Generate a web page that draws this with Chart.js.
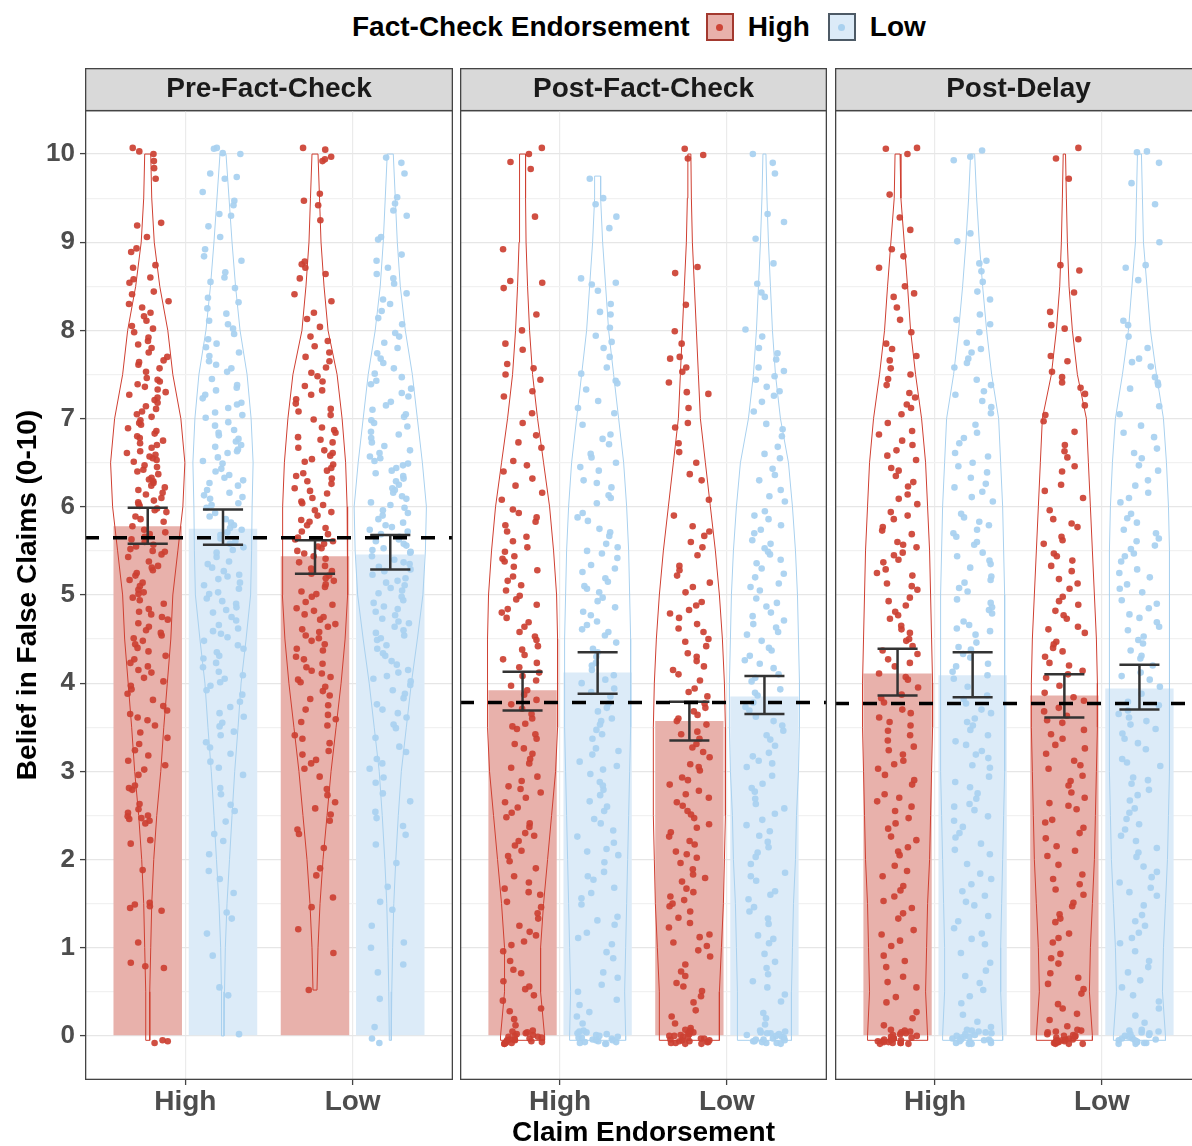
<!DOCTYPE html>
<html>
<head>
<meta charset="utf-8">
<script src="https://cdn.jsdelivr.net/npm/chart.js"></script>
<style>
  body { margin: 0; width: 1192px; height: 1146px; overflow: hidden; position: relative; background: #fff;
         font-family: 'Liberation Sans', Arial, sans-serif; }
  canvas { position: absolute; top: 68px; }
  #legend { position: absolute; top: 11px; left: 352px; display: flex; align-items: center;
            font-weight: bold; font-size: 28px; color: #000; white-space: nowrap; }
  .key { display: inline-block; width: 24px; height: 24px; border: 2px solid; position: relative; margin-left: 16px; }
  .key i { position: absolute; width: 7px; height: 7px; border-radius: 50%; left: 8.5px; top: 8.5px; }
  .lab { margin-left: 14px; }
  .lab + .key { margin-left: 18px; }
</style>
</head>
<body>
<div id="legend"></div>
<canvas id="c0" width="453" height="1078" style="left:0px"></canvas>
<canvas id="c1" width="367" height="1078" style="left:460px"></canvas>
<canvas id="c2" width="367" height="1078" style="left:835px"></canvas>
<script>
// facettes / kategori
const panelTitles = ['Pre-Fact-Check', 'Post-Fact-Check', 'Post-Delay'];
const claimLabels = ['High', 'Low'];
const factLabels = ['High', 'Low'];
const yTicks = [0, 1, 2, 3, 4, 5, 6, 7, 8, 9, 10];

// rata2 per [panel][claim]
const meanFactHigh = [[5.78, 5.44], [3.92, 3.57], [4.11, 3.86]];
const meanFactLow  = [[5.75, 5.46], [4.12, 3.85], [4.09, 3.94]];
// error bar [lo, hi]
const ciFactHigh = [[[5.58, 5.99], [5.24, 5.62]], [[3.69, 4.13], [3.35, 3.79]], [[3.86, 4.39], [3.61, 4.10]]];
const ciFactLow  = [[[5.57, 5.97], [5.29, 5.68]], [[3.88, 4.35], [3.65, 4.08]], [[3.84, 4.35], [3.70, 4.21]]];
// garis putus2 per panel
const panelMean = [5.65, 3.78, 3.77];

// nilai individual (dibaca kira2 dari gambar)
const ptsPreHH = [-0.08, -0.06, -0.05, 0.77, 0.79, 0.83, 1.06, 1.42, 1.45, 1.47, 1.49, 1.51, 1.88, 2.18, 2.22, 2.41, 2.44, 2.46, 2.47, 2.49, 2.5, 2.53, 2.57, 2.63, 2.79, 2.81, 2.84, 2.96, 3.02, 3.07, 3.12, 3.18, 3.24, 3.31, 3.38, 3.44, 3.52, 3.58, 3.61, 3.65, 3.69, 3.74, 3.81, 3.88, 3.93, 3.97, 4.02, 4.06, 4.12, 4.15, 4.19, 4.23, 4.27, 4.31, 4.36, 4.4, 4.44, 4.48, 4.51, 4.54, 4.57, 4.6, 4.64, 4.68, 4.72, 4.75, 4.78, 4.81, 4.84, 4.9, 4.94, 4.97, 5.01, 5.03, 5.06, 5.1, 5.14, 5.17, 5.22, 5.25, 5.28, 5.31, 5.33, 5.38, 5.43, 5.46, 5.49, 5.5, 5.52, 5.55, 5.57, 5.6, 5.63, 5.66, 5.69, 5.71, 5.74, 5.78, 5.83, 5.86, 5.89, 5.94, 5.96, 5.98, 6.01, 6.03, 6.05, 6.07, 6.1, 6.14, 6.16, 6.19, 6.22, 6.24, 6.27, 6.29, 6.31, 6.33, 6.37, 6.4, 6.42, 6.45, 6.47, 6.51, 6.53, 6.55, 6.57, 6.59, 6.61, 6.63, 6.67, 6.7, 6.72, 6.75, 6.78, 6.8, 6.83, 6.86, 6.89, 6.93, 6.95, 6.98, 7.02, 7.05, 7.08, 7.11, 7.14, 7.18, 7.21, 7.24, 7.27, 7.3, 7.33, 7.36, 7.39, 7.42, 7.44, 7.46, 7.53, 7.57, 7.61, 7.64, 7.66, 7.7, 7.75, 7.8, 7.84, 7.88, 7.92, 7.98, 8.02, 8.05, 8.11, 8.16, 8.2, 8.26, 8.3, 8.33, 8.41, 8.44, 8.54, 8.58, 8.6, 8.71, 8.74, 8.89, 8.93, 9.06, 9.19, 9.22, 9.72, 9.84, 9.92, 10.0, 10.03, 10.07];
const ptsPreHL = [0.02, 0.46, 0.55, 0.91, 1.16, 1.33, 1.4, 1.62, 1.78, 1.87, 2.06, 2.21, 2.29, 2.43, 2.55, 2.62, 2.74, 2.81, 2.96, 3.04, 3.11, 3.2, 3.27, 3.33, 3.41, 3.45, 3.51, 3.55, 3.62, 3.66, 3.73, 3.79, 3.87, 3.92, 3.97, 4.01, 4.05, 4.09, 4.13, 4.18, 4.23, 4.28, 4.31, 4.35, 4.39, 4.43, 4.48, 4.52, 4.56, 4.59, 4.62, 4.66, 4.71, 4.75, 4.8, 4.83, 4.86, 4.9, 4.93, 4.96, 5.01, 5.03, 5.07, 5.11, 5.14, 5.18, 5.21, 5.23, 5.27, 5.31, 5.35, 5.38, 5.43, 5.48, 5.51, 5.54, 5.58, 5.61, 5.64, 5.68, 5.71, 5.74, 5.76, 5.79, 5.82, 5.86, 5.89, 5.93, 5.99, 6.02, 6.04, 6.09, 6.11, 6.13, 6.16, 6.19, 6.24, 6.27, 6.3, 6.33, 6.36, 6.4, 6.43, 6.49, 6.52, 6.56, 6.61, 6.63, 6.65, 6.68, 6.7, 6.74, 6.77, 6.81, 6.84, 6.87, 6.92, 6.96, 7.01, 7.04, 7.07, 7.12, 7.16, 7.18, 7.23, 7.27, 7.32, 7.35, 7.38, 7.45, 7.53, 7.57, 7.61, 7.65, 7.71, 7.75, 7.81, 7.85, 7.9, 7.96, 8.02, 8.07, 8.11, 8.19, 8.25, 8.32, 8.37, 8.48, 8.55, 8.6, 8.66, 8.79, 8.84, 8.92, 9.06, 9.18, 9.3, 9.32, 9.42, 9.47, 9.57, 9.72, 9.74, 9.78, 10.0, 10.01, 10.06, 10.07];
const ptsPreLH = [0.52, 0.94, 1.21, 1.46, 1.57, 1.82, 1.9, 2.13, 2.29, 2.34, 2.44, 2.51, 2.58, 2.65, 2.73, 2.8, 2.94, 3.03, 3.09, 3.13, 3.19, 3.23, 3.32, 3.37, 3.41, 3.52, 3.56, 3.59, 3.64, 3.7, 3.75, 3.82, 3.86, 3.91, 3.96, 4.01, 4.04, 4.07, 4.11, 4.14, 4.18, 4.22, 4.27, 4.3, 4.37, 4.39, 4.44, 4.48, 4.51, 4.54, 4.58, 4.61, 4.64, 4.67, 4.72, 4.75, 4.78, 4.82, 4.85, 4.89, 4.92, 4.98, 5.01, 5.04, 5.09, 5.12, 5.16, 5.19, 5.22, 5.24, 5.27, 5.3, 5.33, 5.37, 5.41, 5.44, 5.47, 5.5, 5.53, 5.55, 5.58, 5.61, 5.63, 5.65, 5.69, 5.72, 5.76, 5.79, 5.83, 5.85, 5.9, 5.94, 5.96, 6.02, 6.04, 6.06, 6.1, 6.15, 6.18, 6.21, 6.26, 6.29, 6.32, 6.35, 6.38, 6.41, 6.44, 6.48, 6.51, 6.54, 6.58, 6.61, 6.64, 6.67, 6.73, 6.76, 6.79, 6.84, 6.87, 6.9, 6.99, 7.04, 7.08, 7.11, 7.17, 7.22, 7.27, 7.32, 7.37, 7.42, 7.48, 7.52, 7.58, 7.65, 7.7, 7.75, 7.82, 7.88, 7.93, 8.04, 8.13, 8.2, 8.33, 8.41, 8.59, 8.64, 8.71, 8.75, 8.78, 9.25, 9.42, 9.47, 9.55, 9.92, 9.94, 9.97, 10.05, 10.07];
const ptsPreLL = [-0.08, -0.03, 0.1, 0.42, 0.72, 0.81, 1.0, 1.06, 1.25, 1.43, 1.52, 1.69, 1.96, 2.17, 2.28, 2.38, 2.47, 2.54, 2.66, 2.75, 2.87, 2.93, 3.03, 3.09, 3.14, 3.22, 3.28, 3.38, 3.49, 3.53, 3.61, 3.66, 3.7, 3.76, 3.83, 3.88, 3.92, 3.98, 4.02, 4.05, 4.08, 4.12, 4.15, 4.21, 4.25, 4.31, 4.34, 4.39, 4.43, 4.49, 4.51, 4.54, 4.57, 4.6, 4.64, 4.68, 4.7, 4.73, 4.77, 4.81, 4.84, 4.87, 4.91, 4.94, 4.98, 5.02, 5.05, 5.08, 5.11, 5.14, 5.16, 5.19, 5.23, 5.27, 5.29, 5.32, 5.35, 5.37, 5.4, 5.44, 5.48, 5.49, 5.51, 5.53, 5.56, 5.58, 5.61, 5.63, 5.66, 5.69, 5.72, 5.74, 5.77, 5.79, 5.82, 5.86, 5.9, 5.93, 5.96, 5.99, 6.02, 6.05, 6.09, 6.12, 6.16, 6.19, 6.21, 6.25, 6.29, 6.32, 6.35, 6.38, 6.41, 6.44, 6.47, 6.49, 6.52, 6.55, 6.57, 6.61, 6.64, 6.69, 6.73, 6.78, 6.82, 6.85, 6.91, 6.95, 6.98, 7.02, 7.05, 7.1, 7.15, 7.19, 7.25, 7.29, 7.34, 7.39, 7.43, 7.47, 7.51, 7.57, 7.63, 7.68, 7.74, 7.8, 7.86, 7.93, 7.97, 8.07, 8.14, 8.22, 8.3, 8.35, 8.42, 8.53, 8.59, 8.64, 8.71, 8.79, 8.86, 9.03, 9.06, 9.3, 9.36, 9.44, 9.51, 9.78, 9.9, 9.96];

const ptsPostHH = [-0.09, -0.09, -0.08, -0.08, -0.07, -0.07, -0.06, -0.05, -0.05, -0.04, -0.04, -0.03, -0.02, -0.01, -0.01, 0.0, 0.01, 0.02, 0.03, 0.04, 0.05, 0.06, 0.12, 0.19, 0.28, 0.31, 0.4, 0.46, 0.53, 0.56, 0.62, 0.71, 0.75, 0.85, 0.96, 1.03, 1.07, 1.14, 1.18, 1.25, 1.33, 1.39, 1.46, 1.52, 1.6, 1.63, 1.67, 1.74, 1.81, 1.9, 1.98, 2.04, 2.1, 2.16, 2.21, 2.27, 2.3, 2.37, 2.41, 2.48, 2.53, 2.59, 2.65, 2.7, 2.76, 2.8, 2.83, 2.89, 2.94, 3.04, 3.09, 3.14, 3.2, 3.26, 3.31, 3.37, 3.42, 3.48, 3.51, 3.54, 3.6, 3.65, 3.71, 3.76, 3.81, 3.87, 3.92, 3.97, 4.03, 4.08, 4.12, 4.18, 4.23, 4.27, 4.32, 4.38, 4.42, 4.49, 4.53, 4.58, 4.64, 4.69, 4.74, 4.8, 4.84, 4.89, 4.95, 4.99, 5.05, 5.11, 5.16, 5.21, 5.28, 5.32, 5.38, 5.41, 5.44, 5.49, 5.54, 5.61, 5.66, 5.72, 5.79, 5.83, 5.88, 5.93, 5.97, 6.08, 6.16, 6.24, 6.32, 6.4, 6.47, 6.52, 6.67, 6.73, 6.81, 6.95, 7.06, 7.25, 7.31, 7.44, 7.5, 7.57, 7.62, 7.78, 7.85, 8.0, 8.18, 8.48, 8.54, 8.56, 8.92, 9.29, 9.83, 9.91, 10.0, 10.07];
const ptsPostHL = [-0.09, -0.09, -0.08, -0.07, -0.07, -0.06, -0.05, -0.05, -0.04, -0.03, -0.02, -0.02, -0.01, 0.0, 0.01, 0.02, 0.03, 0.04, 0.05, 0.06, 0.14, 0.22, 0.27, 0.35, 0.41, 0.5, 0.58, 0.66, 0.72, 0.88, 0.95, 1.04, 1.11, 1.17, 1.26, 1.31, 1.35, 1.49, 1.56, 1.62, 1.68, 1.77, 1.81, 1.86, 1.97, 2.05, 2.09, 2.12, 2.19, 2.26, 2.33, 2.41, 2.46, 2.55, 2.6, 2.66, 2.73, 2.79, 2.84, 2.88, 2.97, 3.02, 3.06, 3.11, 3.19, 3.23, 3.26, 3.37, 3.42, 3.47, 3.53, 3.57, 3.6, 3.68, 3.72, 3.77, 3.85, 3.9, 3.94, 4.0, 4.04, 4.09, 4.15, 4.2, 4.23, 4.3, 4.35, 4.39, 4.46, 4.54, 4.58, 4.61, 4.66, 4.7, 4.77, 4.81, 4.86, 4.93, 4.97, 5.03, 5.07, 5.1, 5.15, 5.19, 5.26, 5.3, 5.34, 5.42, 5.47, 5.5, 5.54, 5.58, 5.67, 5.71, 5.75, 5.84, 5.88, 5.93, 6.04, 6.1, 6.13, 6.22, 6.27, 6.3, 6.41, 6.45, 6.5, 6.56, 6.6, 6.71, 6.77, 6.82, 6.93, 7.06, 7.12, 7.2, 7.33, 7.4, 7.43, 7.51, 7.58, 7.7, 7.8, 7.87, 7.94, 8.03, 8.18, 8.21, 8.3, 8.45, 8.52, 8.54, 8.59, 9.16, 9.29, 9.43, 9.5, 9.72];
const ptsPostLH = [-0.09, -0.09, -0.08, -0.08, -0.07, -0.07, -0.06, -0.06, -0.05, -0.05, -0.04, -0.03, -0.03, -0.02, -0.01, 0.0, 0.0, 0.01, 0.02, 0.03, 0.04, 0.05, 0.06, 0.07, 0.09, 0.14, 0.22, 0.29, 0.38, 0.45, 0.51, 0.56, 0.6, 0.68, 0.73, 0.81, 0.9, 0.97, 1.02, 1.06, 1.12, 1.15, 1.23, 1.28, 1.34, 1.41, 1.47, 1.5, 1.54, 1.58, 1.63, 1.67, 1.75, 1.79, 1.83, 1.89, 1.96, 2.02, 2.06, 2.09, 2.17, 2.21, 2.26, 2.31, 2.36, 2.4, 2.47, 2.51, 2.55, 2.61, 2.65, 2.7, 2.74, 2.78, 2.85, 2.9, 2.93, 3.01, 3.05, 3.08, 3.16, 3.22, 3.27, 3.31, 3.37, 3.42, 3.45, 3.53, 3.57, 3.6, 3.64, 3.68, 3.72, 3.77, 3.85, 3.9, 3.94, 4.03, 4.1, 4.15, 4.19, 4.25, 4.3, 4.34, 4.42, 4.47, 4.5, 4.58, 4.62, 4.67, 4.74, 4.79, 4.83, 4.88, 4.92, 5.03, 5.09, 5.14, 5.22, 5.28, 5.33, 5.45, 5.54, 5.6, 5.67, 5.72, 5.78, 5.9, 6.08, 6.3, 6.37, 6.5, 6.62, 6.72, 6.9, 6.95, 7.12, 7.28, 7.3, 7.41, 7.53, 7.58, 7.68, 7.7, 7.85, 7.99, 8.29, 8.65, 8.72, 9.95, 9.99, 10.06];
const ptsPostLL = [-0.09, -0.08, -0.08, -0.07, -0.06, -0.06, -0.05, -0.04, -0.04, -0.03, -0.02, -0.01, 0.0, 0.01, 0.02, 0.03, 0.03, 0.04, 0.05, 0.06, 0.13, 0.2, 0.26, 0.39, 0.47, 0.55, 0.62, 0.7, 0.77, 0.84, 0.93, 1.05, 1.1, 1.14, 1.27, 1.33, 1.41, 1.46, 1.55, 1.6, 1.64, 1.76, 1.81, 1.85, 1.95, 2.03, 2.08, 2.14, 2.2, 2.27, 2.32, 2.39, 2.45, 2.52, 2.58, 2.63, 2.69, 2.77, 2.81, 2.86, 2.95, 3.05, 3.09, 3.12, 3.17, 3.21, 3.29, 3.36, 3.41, 3.46, 3.52, 3.57, 3.62, 3.69, 3.73, 3.78, 3.86, 3.89, 3.93, 4.02, 4.06, 4.1, 4.17, 4.22, 4.26, 4.31, 4.37, 4.4, 4.48, 4.55, 4.58, 4.63, 4.67, 4.71, 4.76, 4.8, 4.87, 4.91, 4.96, 5.05, 5.09, 5.13, 5.2, 5.24, 5.3, 5.36, 5.4, 5.46, 5.49, 5.53, 5.58, 5.62, 5.7, 5.74, 5.79, 5.86, 5.9, 5.95, 6.06, 6.12, 6.19, 6.3, 6.36, 6.43, 6.55, 6.6, 6.68, 6.8, 6.88, 6.94, 7.08, 7.19, 7.26, 7.31, 7.36, 7.44, 7.48, 7.54, 7.58, 7.67, 7.74, 7.8, 7.93, 8.01, 8.38, 8.43, 8.53, 8.76, 9.04, 9.23, 9.32, 9.78, 9.9, 10.0];

const ptsDelayHH = [-0.09, -0.09, -0.08, -0.08, -0.08, -0.07, -0.07, -0.06, -0.06, -0.05, -0.05, -0.04, -0.03, -0.03, -0.02, -0.01, 0.0, 0.01, 0.02, 0.03, 0.04, 0.05, 0.06, 0.07, 0.12, 0.2, 0.27, 0.38, 0.44, 0.55, 0.61, 0.67, 0.78, 0.85, 0.91, 1.02, 1.08, 1.15, 1.2, 1.33, 1.39, 1.45, 1.53, 1.58, 1.65, 1.7, 1.81, 1.87, 1.93, 2.05, 2.09, 2.14, 2.22, 2.26, 2.35, 2.41, 2.47, 2.55, 2.6, 2.66, 2.7, 2.74, 2.85, 2.9, 2.96, 3.03, 3.08, 3.12, 3.19, 3.24, 3.28, 3.35, 3.41, 3.46, 3.52, 3.56, 3.61, 3.66, 3.7, 3.78, 3.83, 3.87, 3.95, 4.04, 4.07, 4.11, 4.19, 4.23, 4.27, 4.33, 4.37, 4.42, 4.48, 4.5, 4.57, 4.61, 4.65, 4.73, 4.77, 4.81, 4.88, 4.93, 4.97, 5.06, 5.1, 5.13, 5.22, 5.25, 5.29, 5.37, 5.4, 5.45, 5.48, 5.54, 5.57, 5.6, 5.69, 5.73, 5.77, 5.86, 5.9, 5.94, 6.03, 6.09, 6.14, 6.23, 6.28, 6.35, 6.41, 6.44, 6.53, 6.58, 6.64, 6.7, 6.75, 6.82, 6.86, 6.95, 7.05, 7.12, 7.16, 7.24, 7.29, 7.38, 7.45, 7.5, 7.57, 7.66, 7.71, 7.79, 7.85, 7.98, 8.12, 8.26, 8.38, 8.42, 8.5, 8.71, 8.84, 8.92, 9.14, 9.28, 9.54, 10.0, 10.06, 10.07];
const ptsDelayHL = [-0.09, -0.09, -0.08, -0.08, -0.07, -0.06, -0.06, -0.05, -0.04, -0.04, -0.03, -0.02, -0.01, -0.01, 0.0, 0.01, 0.02, 0.03, 0.04, 0.05, 0.06, 0.07, 0.1, 0.16, 0.24, 0.37, 0.45, 0.52, 0.6, 0.68, 0.74, 0.83, 0.94, 1.04, 1.1, 1.16, 1.22, 1.3, 1.36, 1.48, 1.52, 1.59, 1.64, 1.72, 1.78, 1.84, 1.95, 2.06, 2.11, 2.18, 2.25, 2.3, 2.37, 2.44, 2.49, 2.56, 2.6, 2.63, 2.69, 2.75, 2.82, 2.88, 2.94, 3.04, 3.07, 3.15, 3.19, 3.23, 3.3, 3.34, 3.41, 3.47, 3.52, 3.56, 3.6, 3.66, 3.7, 3.77, 3.82, 3.86, 3.96, 4.05, 4.09, 4.13, 4.19, 4.22, 4.29, 4.33, 4.38, 4.41, 4.46, 4.55, 4.59, 4.62, 4.66, 4.7, 4.79, 4.83, 4.86, 4.91, 4.95, 5.04, 5.08, 5.14, 5.17, 5.21, 5.31, 5.35, 5.39, 5.44, 5.48, 5.57, 5.6, 5.66, 5.7, 5.74, 5.79, 5.83, 5.88, 5.92, 6.06, 6.11, 6.17, 6.22, 6.26, 6.33, 6.39, 6.46, 6.5, 6.57, 6.61, 6.72, 6.78, 6.84, 6.93, 7.06, 7.13, 7.2, 7.27, 7.31, 7.38, 7.44, 7.58, 7.63, 7.68, 7.75, 7.79, 7.86, 7.98, 8.07, 8.12, 8.18, 8.35, 8.44, 8.55, 8.67, 8.76, 8.79, 9.01, 9.1, 9.93, 9.97, 10.04];
const ptsDelayLH = [-0.09, -0.09, -0.09, -0.08, -0.08, -0.07, -0.07, -0.06, -0.06, -0.05, -0.05, -0.04, -0.04, -0.03, -0.02, -0.01, 0.0, 0.0, 0.01, 0.02, 0.04, 0.05, 0.06, 0.07, 0.11, 0.18, 0.25, 0.31, 0.36, 0.48, 0.53, 0.59, 0.66, 0.71, 0.82, 0.88, 0.93, 1.06, 1.11, 1.16, 1.29, 1.33, 1.38, 1.47, 1.51, 1.6, 1.66, 1.72, 1.78, 1.83, 1.94, 2.04, 2.1, 2.15, 2.24, 2.3, 2.36, 2.42, 2.45, 2.57, 2.61, 2.64, 2.7, 2.76, 2.84, 2.89, 2.95, 3.03, 3.07, 3.12, 3.2, 3.26, 3.3, 3.37, 3.42, 3.47, 3.55, 3.58, 3.63, 3.68, 3.72, 3.8, 3.84, 3.89, 3.97, 4.06, 4.1, 4.14, 4.2, 4.23, 4.3, 4.36, 4.4, 4.44, 4.47, 4.57, 4.61, 4.64, 4.73, 4.77, 4.82, 4.89, 4.93, 4.98, 5.07, 5.13, 5.18, 5.27, 5.33, 5.39, 5.44, 5.47, 5.58, 5.62, 5.66, 5.77, 5.81, 5.86, 5.96, 6.1, 6.18, 6.25, 6.4, 6.46, 6.56, 6.63, 6.7, 6.85, 6.97, 7.04, 7.15, 7.28, 7.35, 7.41, 7.47, 7.53, 7.65, 7.71, 7.9, 8.02, 8.06, 8.21, 8.43, 8.68, 8.74, 9.72, 9.95, 10.07];
const ptsDelayLL = [-0.09, -0.09, -0.08, -0.08, -0.07, -0.07, -0.06, -0.05, -0.05, -0.04, -0.03, -0.03, -0.02, -0.01, 0.0, 0.01, 0.02, 0.03, 0.04, 0.05, 0.06, 0.07, 0.15, 0.23, 0.31, 0.39, 0.46, 0.55, 0.63, 0.72, 0.78, 0.85, 0.96, 1.05, 1.11, 1.17, 1.25, 1.3, 1.37, 1.48, 1.59, 1.63, 1.68, 1.74, 1.8, 1.86, 1.92, 2.03, 2.08, 2.13, 2.21, 2.27, 2.34, 2.4, 2.46, 2.53, 2.58, 2.67, 2.73, 2.79, 2.86, 2.9, 2.93, 3.06, 3.1, 3.14, 3.25, 3.32, 3.37, 3.43, 3.48, 3.53, 3.57, 3.61, 3.65, 3.69, 3.75, 3.79, 3.88, 3.96, 4.04, 4.08, 4.12, 4.2, 4.28, 4.31, 4.37, 4.45, 4.49, 4.53, 4.6, 4.64, 4.69, 4.74, 4.78, 4.85, 4.9, 4.94, 5.03, 5.07, 5.12, 5.2, 5.25, 5.29, 5.38, 5.44, 5.47, 5.52, 5.56, 5.61, 5.64, 5.7, 5.74, 5.82, 5.87, 5.92, 6.05, 6.1, 6.16, 6.24, 6.3, 6.41, 6.47, 6.55, 6.61, 6.66, 6.79, 6.84, 6.92, 7.05, 7.14, 7.34, 7.38, 7.41, 7.47, 7.59, 7.64, 7.68, 7.8, 7.93, 8.06, 8.11, 8.57, 8.71, 8.74, 9.0, 9.43, 9.67, 9.9, 10.02, 10.03];

// lebar setengah violin (satuan sumbu x) di tiap level y
const violinLevels = [0, 0.5, 1, 1.5, 2, 2.5, 3, 3.5, 4, 4.5, 5, 5.5, 6, 6.5, 7, 7.5, 8, 8.5, 9, 9.5, 10];
const vioPreHH = [0.012, 0.012, 0.018, 0.024, 0.036, 0.054, 0.078, 0.096, 0.117, 0.138, 0.15, 0.18, 0.21, 0.222, 0.198, 0.15, 0.12, 0.072, 0.039, 0.024, 0.018];
const vioPreHL = [0.006, 0.009, 0.014, 0.024, 0.039, 0.054, 0.07, 0.09, 0.108, 0.138, 0.165, 0.171, 0.174, 0.18, 0.168, 0.144, 0.102, 0.075, 0.054, 0.036, 0.018];
const vioPreLH = [null, 0.012, 0.018, 0.03, 0.048, 0.072, 0.096, 0.126, 0.156, 0.18, 0.195, 0.195, 0.192, 0.183, 0.162, 0.132, 0.078, 0.054, 0.036, 0.027, 0.018];
const vioPreLL = [0.006, 0.009, 0.014, 0.021, 0.033, 0.048, 0.066, 0.096, 0.126, 0.162, 0.195, 0.21, 0.216, 0.192, 0.162, 0.132, 0.09, 0.06, 0.042, 0.03, 0.018];
const vioPostHH = [0.132, 0.108, 0.108, 0.126, 0.15, 0.174, 0.198, 0.21, 0.21, 0.21, 0.204, 0.186, 0.162, 0.126, 0.09, 0.06, 0.042, 0.03, 0.021, 0.018, 0.018];
const vioPostHL = [0.168, 0.162, 0.168, 0.174, 0.18, 0.186, 0.192, 0.198, 0.198, 0.198, 0.192, 0.186, 0.174, 0.156, 0.126, 0.096, 0.066, 0.048, 0.03, 0.018, null];
const vioPostLH = [0.18, 0.18, 0.192, 0.204, 0.21, 0.216, 0.216, 0.216, 0.21, 0.198, 0.18, 0.156, 0.126, 0.096, 0.066, 0.054, 0.042, 0.03, 0.018, 0.012, 0.009];
const vioPostLL = [0.162, 0.162, 0.168, 0.174, 0.186, 0.192, 0.204, 0.21, 0.21, 0.204, 0.198, 0.186, 0.168, 0.144, 0.096, 0.066, 0.048, 0.036, 0.024, 0.015, 0.009];
const vioDelayHH = [0.18, 0.168, 0.174, 0.18, 0.192, 0.198, 0.204, 0.21, 0.21, 0.204, 0.198, 0.192, 0.18, 0.168, 0.144, 0.108, 0.078, 0.06, 0.04, 0.02, 0.015];
const vioDelayHL = [0.18, 0.168, 0.168, 0.174, 0.18, 0.186, 0.192, 0.192, 0.192, 0.192, 0.192, 0.186, 0.18, 0.168, 0.156, 0.114, 0.084, 0.06, 0.04, 0.024, 0.012];
const vioDelayLH = [0.168, 0.15, 0.156, 0.168, 0.18, 0.186, 0.192, 0.198, 0.198, 0.192, 0.18, 0.168, 0.156, 0.144, 0.132, 0.078, 0.048, 0.028, 0.018, 0.012, 0.007];
const vioDelayLL = [0.156, 0.138, 0.144, 0.156, 0.168, 0.174, 0.18, 0.18, 0.18, 0.18, 0.18, 0.18, 0.174, 0.162, 0.144, 0.102, 0.066, 0.045, 0.024, 0.018, 0.012];
// ujung bawah / atas violin [panel][claim][fact]
const vioMin = [[[-0.05, 0.0], [0.52, -0.05]], [[-0.05, -0.05], [-0.05, -0.05]], [[-0.05, -0.05], [-0.05, -0.05]]];
const vioMax = [[[10, 10], [10, 10]], [[10, 9.75], [10, 10]], [[10, 10], [10, 10]]];

const pointSets = [
  [[ptsPreHH, ptsPreHL], [ptsPreLH, ptsPreLL]],
  [[ptsPostHH, ptsPostHL], [ptsPostLH, ptsPostLL]],
  [[ptsDelayHH, ptsDelayHL], [ptsDelayLH, ptsDelayLL]]
];
const violinSets = [
  [[vioPreHH, vioPreHL], [vioPreLH, vioPreLL]],
  [[vioPostHH, vioPostHL], [vioPostLH, vioPostLL]],
  [[vioDelayHH, vioDelayHL], [vioDelayLH, vioDelayLL]]
];

const FONT = "'Liberation Sans', Arial, sans-serif";
Chart.defaults.font.family = FONT;

const DODGE = 0.225, JIT = 0.125, CAP = 0.12;
const PT_COL = ['rgba(204,64,50,0.92)', 'rgba(170,210,240,0.95)'];
const BAR_COL = ['#e8b1ab', '#dcebf8'];
const VIO_COL = ['#cf3f31', '#a9d1ef'];

// legenda
document.getElementById('legend').innerHTML = '<span>Fact-Check Endorsement</span>' +
  factLabels.map((l, i) => '<span class="key" style="background:' + BAR_COL[i] + ';border-color:' +
    (i ? '#4d5a66' : '#a3392f') + '"><i style="background:' + (i ? '#a9d1ef' : '#cd4436') +
    '"></i></span><span class="lab">' + l + '</span>').join('');

function widthAt(widths, v) {
  let i = Math.min(20, Math.max(0, Math.round(v / 0.5)));
  while (widths[i] == null) i += (v < 5 ? 1 : -1);
  return widths[i];
}

function violinOutline(cx, widths, lo, hi) {
  const side = [{ y: lo, w: widthAt(widths, lo) }];
  violinLevels.forEach((lv, i) => {
    if (widths[i] != null && lv > lo && lv < hi) side.push({ y: lv, w: widths[i] });
  });
  side.push({ y: hi, w: widthAt(widths, hi) });
  const out = side.map(s => ({ x: cx - s.w, y: s.y }))
    .concat(side.slice().reverse().map(s => ({ x: cx + s.w, y: s.y })));
  out.push(out[0]);
  return out;
}

// jitter horizontal, deterministik (hash dari index titik & grup)
function jitter(i, g) {
  let h = ((i + 1) * 374761393 + (g + 1) * 668265263) | 0;
  h = Math.imul(h ^ (h >>> 13), 1274126177);
  h = (h ^ (h >>> 16)) >>> 0;
  return (h / 4294967296 - 0.5) * 2 * JIT;
}

const panelPlugin = {
  id: 'panelFrame',
  beforeDraw(chart) {
    const t = chart.titleBlock;
    const ctx = chart.ctx;
    ctx.save();
    ctx.fillStyle = '#d9d9d9';
    ctx.fillRect(t.left, t.top, t.width, t.height);
    ctx.strokeStyle = '#444';
    ctx.lineWidth = 1.3;
    ctx.strokeRect(t.left + 0.65, t.top + 0.65, t.width - 1.3, t.height);
    ctx.restore();
  },
  afterDraw(chart) {
    const a = chart.chartArea;
    const ctx = chart.ctx;
    ctx.save();
    ctx.strokeStyle = '#444';
    ctx.lineWidth = 1.3;
    ctx.strokeRect(a.left + 0.65, a.top + 0.65, a.right - a.left - 1.3, a.bottom - a.top - 1.3);
    ctx.restore();
  }
};

function makeChart(p) {
  const datasets = [];
  const barData = [], barColors = [];
  claimLabels.forEach((cl, c) => {
    factLabels.forEach((fl, f) => {
      const cx = c + 1 + (f ? DODGE : -DODGE);
      const g = p * 4 + c * 2 + f;
      barData.push({ x: cx, y: (f ? meanFactLow : meanFactHigh)[p][c] });
      barColors.push(BAR_COL[f]);

      datasets.push({
        type: 'scatter', showLine: true, order: 4,
        data: violinOutline(cx, violinSets[p][c][f], vioMin[p][c][f], vioMax[p][c][f]),
        borderColor: VIO_COL[f], borderWidth: 1, pointRadius: 0, fill: false
      });

      datasets.push({
        type: 'scatter', order: 3,
        data: pointSets[p][c][f].map((v, i) => ({ x: cx + jitter(i, g), y: v })),
        backgroundColor: PT_COL[f], borderWidth: 0, pointRadius: 3.3
      });

      const [lo, hi] = (f ? ciFactLow : ciFactHigh)[p][c];
      [[{ x: cx, y: lo }, { x: cx, y: hi }],
       [{ x: cx - CAP, y: hi }, { x: cx + CAP, y: hi }],
       [{ x: cx - CAP, y: lo }, { x: cx + CAP, y: lo }]].forEach(seg => {
        datasets.push({
          type: 'scatter', showLine: true, order: 2, data: seg,
          borderColor: '#333', borderWidth: 2.5, pointRadius: 0
        });
      });
    });
  });

  datasets.push({
    type: 'bar', order: 5, data: barData, backgroundColor: barColors, borderWidth: 0,
    grouped: false, barPercentage: 0.91, categoryPercentage: 1
  });

  datasets.push({
    type: 'scatter', showLine: true, order: 1,
    data: [{ x: 0.4, y: panelMean[p] }, { x: 2.6, y: panelMean[p] }],
    borderColor: '#000', borderWidth: 3.5, borderDash: [14, 14], pointRadius: 0
  });

  const isMajor = ctx => ctx.tick && yTicks.includes(ctx.tick.value);

  return new Chart(document.getElementById('c' + p), {
    type: 'scatter',
    data: { datasets },
    options: {
      responsive: false,
      animation: false,
      devicePixelRatio: 1,
      layout: { padding: 0, autoPadding: false },
      plugins: {
        legend: { display: false },
        tooltip: { enabled: false },
        title: {
          display: true, text: panelTitles[p], fullSize: false, color: '#1a1a1a',
          font: { size: 28, weight: 'bold', lineHeight: 1.07 }, padding: { top: 6, bottom: 6 }
        }
      },
      scales: {
        x: {
          type: 'linear', min: 0.4, max: 2.6, offset: false,
          afterBuildTicks: s => { s.ticks = claimLabels.map((l, i) => ({ value: i + 1 })); },
          afterFit: s => { s.height = 66; },
          ticks: {
            callback: v => claimLabels[Math.round(v) - 1],
            font: { size: 28, weight: 'bold' }, color: '#4d4d4d', padding: 0,
            maxRotation: 0, autoSkip: false
          },
          grid: { offset: false, color: '#ebebeb', lineWidth: 1.2, tickLength: 5, tickColor: '#444', tickWidth: 1.3 },
          border: { display: false },
          title: p === 1 ? {
            display: true, text: 'Claim Endorsement', color: '#000',
            font: { size: 28, weight: 'bold', lineHeight: 0.9 }, padding: { top: 0, bottom: 0 }
          } : { display: false }
        },
        y: {
          min: -0.5, max: 10.5,
          afterBuildTicks: s => {
            const t = [];
            yTicks.forEach(v => { t.push({ value: v }); if (v < 10) t.push({ value: v + 0.5 }); });
            s.ticks = t;
          },
          afterFit: s => { s.width = p === 0 ? 85 : 0; },
          ticks: {
            display: p === 0,
            callback: v => (yTicks.includes(v) ? String(v) : ''),
            font: { size: 26, weight: 'bold' }, color: '#4d4d4d', padding: 5, autoSkip: false
          },
          grid: {
            color: c => (isMajor(c) ? '#e6e6e6' : '#f1f1f1'), lineWidth: 1.2,
            drawTicks: p === 0, tickLength: 5, tickWidth: 1.3,
            tickColor: c => (isMajor(c) ? '#444' : 'rgba(0,0,0,0)')
          },
          border: { display: false },
          title: p === 0 ? {
            display: true, text: 'Belief in False Claims (0-10)', color: '#000',
            font: { size: 28, weight: 'bold', lineHeight: 1 }, padding: { top: 14, bottom: 0 }
          } : { display: false }
        }
      }
    },
    plugins: [panelPlugin]
  });
}

panelTitles.forEach((t, p) => makeChart(p));
</script>
</body>
</html>
